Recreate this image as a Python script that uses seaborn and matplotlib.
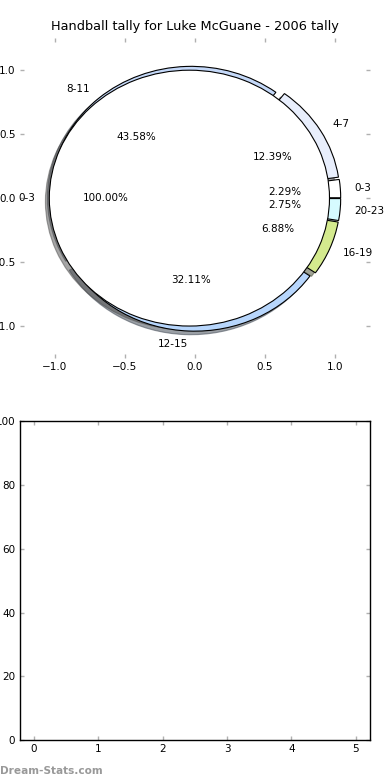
import matplotlib
matplotlib.use("Agg")
import matplotlib.pyplot as plt
import seaborn as sns

sns.set_style("white")
plt.rcParams['font.family'] = ['DejaVu Sans']
plt.rcParams['text.color'] = 'black'
plt.rcParams['xtick.labelcolor'] = 'black'
plt.rcParams['ytick.labelcolor'] = 'black'

# Data
outer_labels = ["0-3", "4-7", "8-11", "12-15", "16-19", "20-23"]
outer_values = [2.29, 12.39, 43.58, 32.11, 6.88, 2.75]
outer_colors = ["#ffffff", "#e8eefc", "#c4d8f8", "#b7d6fc", "#d4ea8e", "#d6fbff"]
inner_labels = ["0-3"]
inner_values = [100.0]
inner_colors = ["#ffffff"]
title = "Handball tally for Luke McGuane - 2006 tally"
pie_ticks = [-1.0, -0.5, 0.0, 0.5, 1.0]
bar_xticks = [0, 1, 2, 3, 4, 5]
bar_yticks = [0, 20, 40, 60, 80, 100]

fs = 7.5
fig = plt.figure(figsize=(3.9, 7.8), dpi=100)
ax1 = fig.add_axes([0.051, 0.541, 0.898, 0.410])
ax2 = fig.add_axes([0.050, 0.051, 0.899, 0.409])

wp = dict(edgecolor="black", linewidth=0.8)
ax1.pie(outer_values, labels=outer_labels, colors=outer_colors,
        explode=[0.04] * len(outer_values), autopct="%1.2f%%",
        startangle=0, shadow=True, radius=1.0, labeldistance=1.1,
        pctdistance=0.6, wedgeprops=wp,
        textprops=dict(fontsize=fs, color="black"))
ax1.pie(inner_values, labels=inner_labels, colors=inner_colors,
        explode=[0.04], autopct="%1.2f%%", startangle=0, shadow=True,
        radius=1.0, labeldistance=1.1, pctdistance=0.6,
        wedgeprops=wp, textprops=dict(fontsize=fs, color="black"))
ax1.set_aspect("auto")
ax1.set_frame_on(False)
ax1.set_xlim(-1.25, 1.25)
ax1.set_ylim(-1.25, 1.25)
ax1.set_xticks(pie_ticks)
ax1.set_yticks(pie_ticks)
ax1.tick_params(axis="both", which="both", direction="in", length=3,
                color="#b0b0b0", width=1, labelsize=fs, labelcolor="black",
                bottom=True, top=True, left=True, right=True, pad=3)
ax1.set_title(title, fontsize=9.3, pad=6, color="black")

ax2.set_xlim(-0.22, 5.22)
ax2.set_ylim(0, 100)
ax2.set_xticks(bar_xticks)
ax2.set_yticks(bar_yticks)
for s in ax2.spines.values():
    s.set_visible(True)
    s.set_color("black")
    s.set_linewidth(1.0)
ax2.tick_params(axis="both", which="both", direction="in", length=3,
                color="#b0b0b0", width=1, labelsize=fs, labelcolor="black",
                bottom=True, top=True, left=True, right=True, pad=3)

fig.text(0.0, 0.0115, "Dream-Stats.com", color="#999999", fontsize=7.6,
         fontweight="bold", ha="left", va="center")

fig.savefig("out.png", dpi=100)
